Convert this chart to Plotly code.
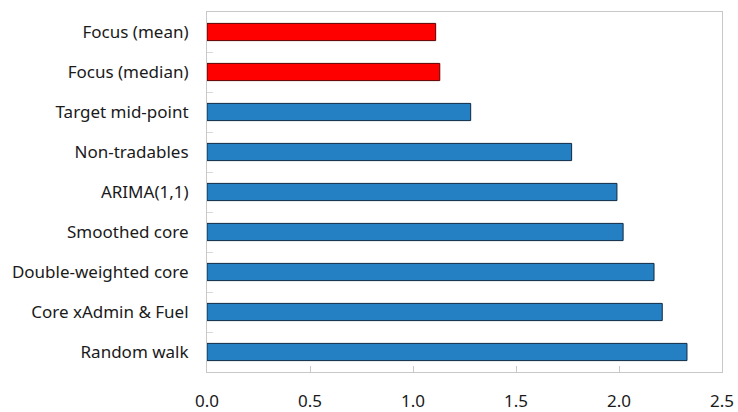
import plotly.graph_objects as go

# Forecast methods, listed top to bottom
methods = [
    "Focus (mean)",
    "Focus (median)",
    "Target mid-point",
    "Non-tradables",
    "ARIMA(1,1)",
    "Smoothed core",
    "Double-weighted core",
    "Core xAdmin & Fuel",
    "Random walk",
]
errors = [1.11, 1.13, 1.28, 1.77, 1.99, 2.02, 2.17, 2.21, 2.33]
is_survey = [True, True, False, False, False, False, False, False, False]

fill_colors = ["#FF0000" if s else "#2480C3" for s in is_survey]
edge_colors = ["#5A0000" if s else "#0E2A44" for s in is_survey]

x_ticks = [0.0, 0.5, 1.0, 1.5, 2.0, 2.5]

fig = go.Figure(
    go.Bar(
        x=errors,
        y=methods,
        orientation="h",
        marker=dict(color=fill_colors, line=dict(color=edge_colors, width=1)),
        showlegend=False,
    )
)

fig.update_layout(
    width=738,
    height=412,
    margin=dict(l=207, r=16, t=12, b=40, autoexpand=False),
    paper_bgcolor="white",
    plot_bgcolor="white",
    bargap=0.57,
    font=dict(family="Noto Sans, Open Sans, sans-serif", size=17, color="#1a1a1a"),
    xaxis=dict(
        range=[0, 2.5],
        tickvals=x_ticks,
        ticktext=[f"{v:.1f}" for v in x_ticks],
        ticks="inside",
        ticklen=6,
        tickcolor="#c8c8c8",
        showgrid=False,
        zeroline=False,
        showline=True,
        linecolor="#c8c8c8",
        linewidth=1,
        mirror=True,
        automargin=False,
        ticklabelstandoff=14,
        tickfont=dict(size=17),
    ),
    yaxis=dict(
        autorange="reversed",
        ticks="inside",
        tickson="boundaries",
        ticklen=6,
        tickcolor="#d8d8d8",
        showgrid=False,
        showline=True,
        linecolor="#c8c8c8",
        linewidth=1,
        mirror=True,
        automargin=False,
        ticklabelstandoff=14,
        tickfont=dict(size=17),
    ),
)

fig.write_html("out.html")
